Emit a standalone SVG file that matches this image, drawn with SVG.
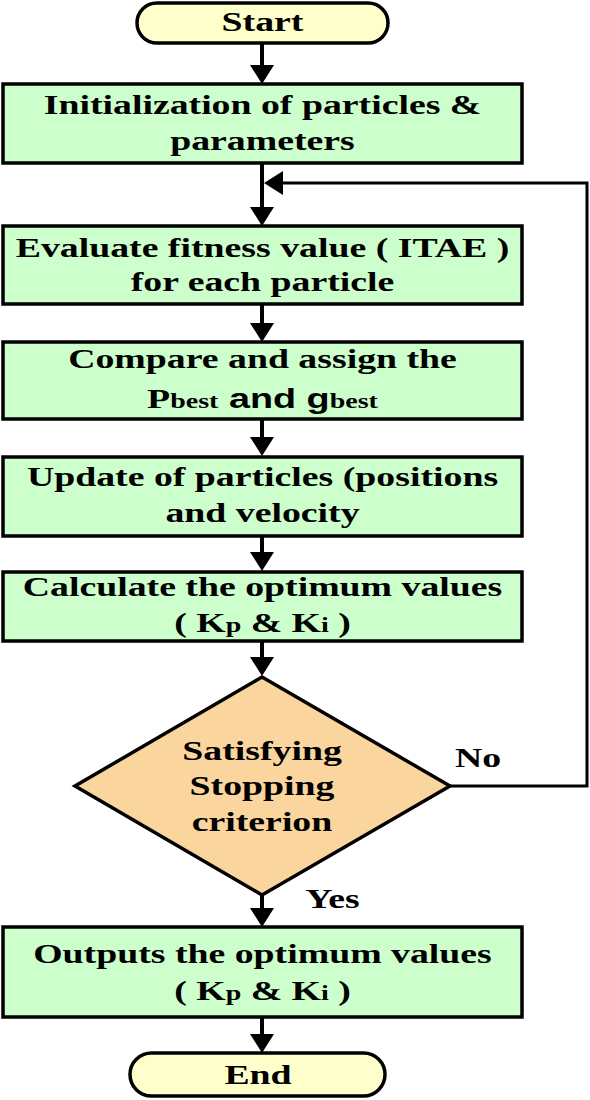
<svg xmlns="http://www.w3.org/2000/svg" width="590" height="1100" viewBox="0 0 590 1100">
<defs>
<marker id="ah" markerUnits="userSpaceOnUse" markerWidth="20" markerHeight="24" refX="1" refY="12" orient="auto" viewBox="0 0 20 24">
<path d="M0,0 L19,12 L0,24 Z" fill="#000"/>
</marker>
</defs>
<style>
.box{fill:#CCFFCC;stroke:#000;stroke-width:3.5}
.pill{fill:#FFFFCC;stroke:#000;stroke-width:3.5}
.dia{fill:#FAD59E;stroke:#000;stroke-width:3.5}
.t{font-family:"Liberation Serif","Times New Roman",serif;font-weight:bold;font-size:27px;fill:#000;text-anchor:middle}
.s{font-family:"Liberation Sans",Arial,sans-serif}
.sub{font-size:20px}
.c{fill:none;stroke:#000;stroke-width:4}
.cl{fill:none;stroke:#000;stroke-width:3}
</style>
<g id="connectors">
<line class="c" x1="262" y1="43" x2="262" y2="66" marker-end="url(#ah)"/>
<line class="c" x1="262" y1="163" x2="262" y2="208" marker-end="url(#ah)"/>
<line class="c" x1="262" y1="304" x2="262" y2="324" marker-end="url(#ah)"/>
<line class="c" x1="262" y1="419" x2="262" y2="438" marker-end="url(#ah)"/>
<line class="c" x1="262" y1="536" x2="262" y2="553" marker-end="url(#ah)"/>
<line class="c" x1="262" y1="641" x2="262" y2="658" marker-end="url(#ah)"/>
<line class="c" x1="262" y1="895" x2="262" y2="909" marker-end="url(#ah)"/>
<line class="c" x1="262" y1="1017" x2="262" y2="1035" marker-end="url(#ah)"/>
<polyline class="cl" points="450,786 587,786 587,183 282,183" marker-end="url(#ah)"/>
</g>
<g id="start">
<rect class="pill" x="137" y="3" width="251" height="40" rx="20"/>
<text class="t" transform="translate(262.5 31) scale(1.4 1)">Start</text>
</g>
<g id="init">
<rect class="box" x="3" y="84" width="519" height="79"/>
<text class="t" transform="translate(262.5 114) scale(1.4 1)">Initialization of particles &amp;</text>
<text class="t" transform="translate(262.5 150) scale(1.4 1)">parameters</text>
</g>
<g id="evaluate">
<rect class="box" x="3" y="226" width="519" height="78"/>
<text class="t" transform="translate(262.5 257) scale(1.4 1)">Evaluate fitness value ( ITAE )</text>
<text class="t" transform="translate(262.5 291) scale(1.4 1)">for each particle</text>
</g>
<g id="compare">
<rect class="box" x="3" y="342" width="519" height="77"/>
<text class="t" transform="translate(262.5 368) scale(1.4 1)">Compare and assign the</text>
<text class="t" transform="translate(262.5 408) scale(1.4 1)">P<tspan class="sub">best</tspan><tspan class="s"> and g</tspan><tspan class="sub">best</tspan></text>
</g>
<g id="update">
<rect class="box" x="3" y="457" width="519" height="79"/>
<text class="t" transform="translate(262.5 486) scale(1.4 1)">Update of particles (positions</text>
<text class="t" transform="translate(262.5 522) scale(1.4 1)">and velocity</text>
</g>
<g id="calculate">
<rect class="box" x="3" y="572" width="519" height="69"/>
<text class="t" transform="translate(262.5 596) scale(1.4 1)">Calculate the optimum values</text>
<text class="t" transform="translate(262.5 632) scale(1.4 1)">( K<tspan class="sub">p</tspan> &amp; K<tspan class="sub">i</tspan> )</text>
</g>
<g id="decision">
<polygon class="dia" points="262,677 450,786 262,895 75,786"/>
<text class="t" transform="translate(262 760) scale(1.4 1)">Satisfying</text>
<text class="t" transform="translate(262 795) scale(1.4 1)">Stopping</text>
<text class="t" transform="translate(262 831) scale(1.4 1)">criterion</text>
</g>
<g id="labels">
<text class="t" transform="translate(478 767) scale(1.4 1)">No</text>
<text class="t" transform="translate(332.5 908) scale(1.4 1)">Yes</text>
</g>
<g id="output">
<rect class="box" x="3" y="927" width="519" height="90"/>
<text class="t" transform="translate(262.5 963) scale(1.4 1)">Outputs the optimum values</text>
<text class="t" transform="translate(262.5 1000) scale(1.4 1)">( K<tspan class="sub">p</tspan> &amp; K<tspan class="sub">i</tspan> )</text>
</g>
<g id="end">
<rect class="pill" x="130" y="1053" width="255" height="43" rx="21.5"/>
<text class="t" transform="translate(258 1084) scale(1.4 1)">End</text>
</g>
</svg>
